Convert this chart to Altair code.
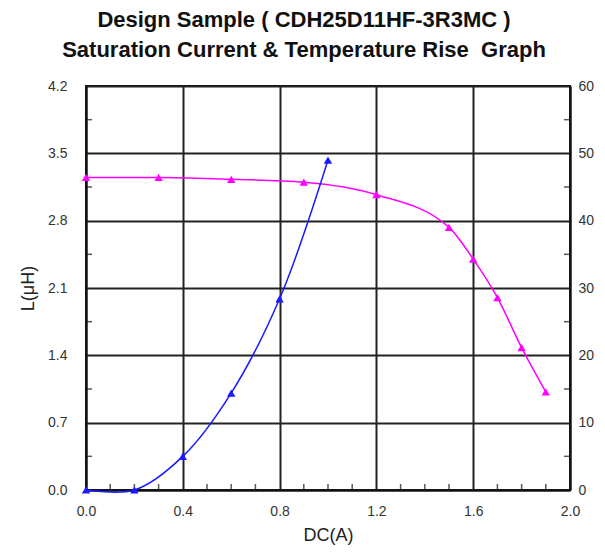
import altair as alt
import pandas as pd

# ---- data ----
l_current = [0.0, 0.3, 0.6, 0.9, 1.2, 1.5, 1.6, 1.7, 1.8, 1.9]
l_values = [3.25, 3.25, 3.23, 3.20, 3.07, 2.73, 2.40, 2.00, 1.48, 1.02]

t_current = [0.0, 0.2, 0.4, 0.6, 0.8, 1.0]
t_values = [0.0, 0.0, 5.0, 14.4, 28.4, 49.0]

x_major = [0.0, 0.4, 0.8, 1.2, 1.6, 2.0]
x_minor = [0.1, 0.2, 0.3, 0.5, 0.6, 0.7, 0.9, 1.0, 1.1, 1.3, 1.4, 1.5, 1.7, 1.8, 1.9]
yl_major = [0.0, 0.7, 1.4, 2.1, 2.8, 3.5, 4.2]
yl_minor = [0.35, 1.05, 1.75, 2.45, 3.15, 3.85]
yr_major = [0, 10, 20, 30, 40, 50, 60]
yr_minor = [5, 15, 25, 35, 45, 55]

title_lines = ["Design Sample ( CDH25D11HF-3R3MC )",
               "Saturation Current & Temperature Rise\u00a0 Graph"]

W, H = 484, 404
FONT = "Liberation Sans"

l_df = pd.DataFrame({"DC": l_current, "L": l_values})
t_df = pd.DataFrame({"DC": t_current, "T": t_values})
xminor_df = pd.DataFrame({"DC": x_minor})
ylminor_df = pd.DataFrame({"L": yl_minor})
yrminor_df = pd.DataFrame({"T": yr_minor})

x_enc = alt.X(
    "DC:Q",
    scale=alt.Scale(domain=[0, 2.0], nice=False, zero=False),
    axis=alt.Axis(
        values=x_major, format=".1f", title="DC(A)", grid=True, ticks=False,
        labelPadding=14, titlePadding=8, labelFlush=False,
    ),
)
yl_enc = alt.Y(
    "L:Q",
    scale=alt.Scale(domain=[0, 4.2], nice=False),
    axis=alt.Axis(values=yl_major, format=".1f", title="L(μH)", grid=True,
                  ticks=False, labelPadding=19, titlePadding=10, labelFlush=False),
)
yr_enc = alt.Y(
    "T:Q",
    scale=alt.Scale(domain=[0, 60], nice=False),
    axis=alt.Axis(values=yr_major, format="d", title=None, grid=False,
                  ticks=False, orient="right", labelPadding=8, labelFlush=False),
)

pink = "#FF00FF"
blue = "#1A1AFF"

l_line = alt.Chart(l_df).mark_line(
    color=pink, strokeWidth=1.5, interpolate="monotone"
).encode(x=x_enc, y=yl_enc)
l_pts = alt.Chart(l_df).mark_point(
    shape="triangle-up", filled=True, color=pink, size=70, opacity=1
).encode(x=x_enc, y=yl_enc)

xminor = alt.Chart(xminor_df).mark_tick(
    color="#111", size=6, thickness=1.5, orient="vertical"
).encode(x=x_enc, y=alt.value(H - 3))
ylminor = alt.Chart(ylminor_df).mark_tick(
    color="#111", size=6, thickness=1.5, orient="horizontal"
).encode(y=yl_enc, x=alt.value(3))

left = alt.layer(l_line, l_pts, xminor, ylminor)

t_line = alt.Chart(t_df).mark_line(
    color=blue, strokeWidth=1.5, interpolate="catmull-rom"
).encode(x=x_enc, y=yr_enc)
t_pts = alt.Chart(t_df).mark_point(
    shape="triangle-up", filled=True, color=blue, size=70, opacity=1
).encode(x=x_enc, y=yr_enc)
yrminor = alt.Chart(yrminor_df).mark_tick(
    color="#111", size=6, thickness=1.5, orient="horizontal"
).encode(y=yr_enc, x=alt.value(W - 3))

right = alt.layer(t_line, t_pts, yrminor)

chart = alt.layer(left, right).resolve_scale(y="independent").properties(
    width=W,
    height=H,
    background="white",
    title=alt.TitleParams(
        text=title_lines,
        font=FONT, fontSize=22, fontWeight="bold", color="#111",
        lineHeight=30, anchor="middle", dx=-24, offset=17,
    ),
    autosize=alt.AutoSizeParams(type="none"),
    padding={"left": 78, "top": 78, "right": 27, "bottom": 60},
).configure_view(
    stroke="#111", strokeWidth=2
).configure_axis(
    labelFont=FONT, labelFontSize=14, labelColor="#333",
    titleFont=FONT, titleFontSize=18, titleFontWeight="normal", titleColor="#222",
    domainColor="#111", domainWidth=2,
    gridColor="#222", gridWidth=2, gridOpacity=1,
)

chart.save("out.html", embed_options={"renderer": "svg", "actions": False})
